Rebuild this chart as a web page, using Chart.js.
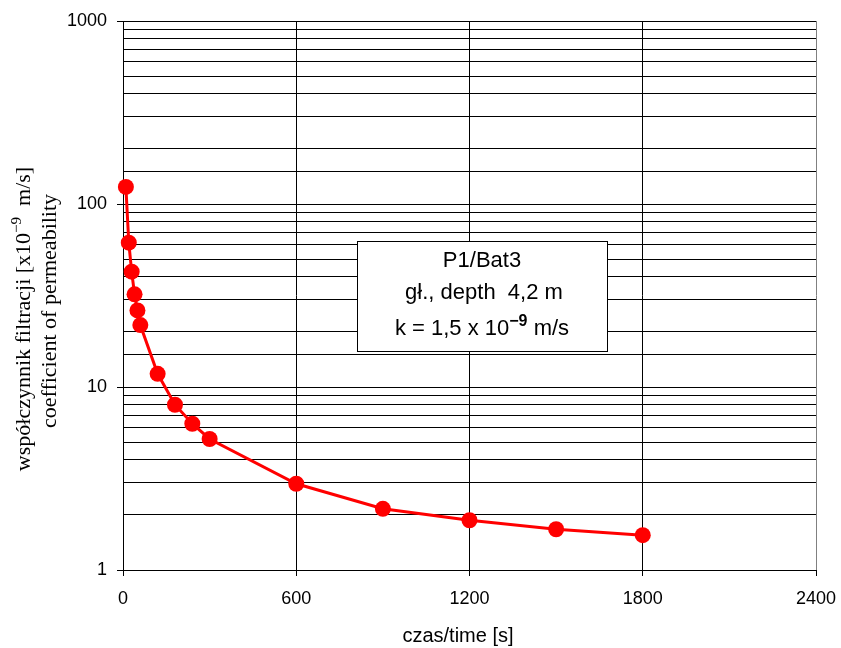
<!DOCTYPE html>
<html><head><meta charset="utf-8">
<script src="https://cdn.jsdelivr.net/npm/chart.js@4.4.0/dist/chart.umd.min.js"></script>
<style>html,body{margin:0;padding:0;background:#fff}canvas{display:block}</style>
</head><body>
<canvas id="c" width="841" height="648"></canvas>
<script>
const times = [10, 20, 30, 40, 50, 60, 120, 180, 240, 300, 600, 900, 1200, 1500, 1800];
const permeability = [124, 61.5, 42.7, 32.1, 26.2, 21.8, 11.8, 8.0, 6.3, 5.2, 2.96, 2.16, 1.87, 1.67, 1.55];
const xTickValues = [0, 600, 1200, 1800, 2400];
const yMajorTicks = [1, 10, 100, 1000];
const xTitle = 'czas/time [s]';
const yTitleLine1 = ['współczynnik filtracji [x10', '−9', '  m/s]'];
const yTitleLine2 = 'coefficient of permeability';
const boxLine1 = 'P1/Bat3';
const boxLine2 = 'gł., depth  4,2 m';
const boxLine3 = ['k = 1,5 x 10', '−9', ' m/s'];

const SANS = '"Liberation Sans", Arial, sans-serif';
const SERIF = '"Liberation Serif", "Times New Roman", serif';

function isMajor(v) { return yMajorTicks.some(m => Math.abs(m - v) < 1e-9); }

function drawPieces(ctx, pieces, cx, baseline, font, supFont, supRise) {
  ctx.font = font; const w0 = ctx.measureText(pieces[0]).width;
  ctx.font = supFont; const w1 = ctx.measureText(pieces[1]).width;
  ctx.font = font; const w2 = ctx.measureText(pieces[2]).width;
  let x = cx - (w0 + w1 + w2) / 2;
  ctx.textAlign = 'left'; ctx.textBaseline = 'alphabetic';
  ctx.font = font; ctx.fillText(pieces[0], x, baseline); x += w0;
  ctx.font = supFont; ctx.fillText(pieces[1], x, baseline - supRise); x += w1;
  ctx.font = font; ctx.fillText(pieces[2], x, baseline);
}

const annotations = {
  id: 'annotations',
  afterDraw(chart) {
    const ctx = chart.ctx;
    ctx.save();
    ctx.fillStyle = '#000';
    // x axis title
    ctx.font = '20px ' + SANS;
    ctx.textAlign = 'center'; ctx.textBaseline = 'alphabetic';
    ctx.fillText(xTitle, 458, 642);
    // y axis title (two lines, rotated)
    ctx.save();
    ctx.translate(30, 319);
    ctx.rotate(-Math.PI / 2);
    drawPieces(ctx, yTitleLine1, 0, 0, '22px ' + SERIF, '15px ' + SERIF, 9);
    ctx.restore();
    ctx.save();
    ctx.translate(56, 311);
    ctx.rotate(-Math.PI / 2);
    ctx.font = '22px ' + SERIF; ctx.textAlign = 'center'; ctx.textBaseline = 'alphabetic';
    ctx.fillText(yTitleLine2, 0, 0);
    ctx.restore();
    // info box
    ctx.fillStyle = '#fff';
    ctx.fillRect(357, 241, 250, 110);
    ctx.strokeStyle = '#000'; ctx.lineWidth = 1;
    ctx.strokeRect(357.5, 241.5, 250, 110);
    ctx.fillStyle = '#000';
    ctx.font = '22px ' + SANS; ctx.textAlign = 'center'; ctx.textBaseline = 'alphabetic';
    ctx.fillText(boxLine1, 482, 267);
    ctx.fillText(boxLine2, 484, 299);
    drawPieces(ctx, boxLine3, 482, 335, '22px ' + SANS, 'bold 16px ' + SANS, 9);
    ctx.restore();
  }
};

new Chart(document.getElementById('c'), {
  type: 'line',
  data: {
    datasets: [{
      data: times.map((t, i) => ({ x: t, y: permeability[i] })),
      borderColor: '#ff0000',
      backgroundColor: '#ff0000',
      borderWidth: 3,
      pointRadius: 8,
      pointHoverRadius: 8,
      pointBackgroundColor: '#ff0000',
      pointBorderColor: '#ff0000',
      pointBorderWidth: 0,
      tension: 0,
      clip: false
    }]
  },
  options: {
    responsive: false,
    animation: false,
    events: [],
    layout: { padding: { top: 21, right: 25, left: 0, bottom: 0 } },
    plugins: { legend: { display: false }, tooltip: { enabled: false } },
    scales: {
      x: {
        type: 'linear',
        min: 0, max: 2400,
        afterBuildTicks: (s) => { s.ticks = xTickValues.map(v => ({ value: v })); },
        afterFit: (s) => { s.height = 78; s.paddingLeft = 0; s.paddingRight = 0; },
        ticks: {
          font: { family: SANS, size: 18 }, color: '#000', padding: 12, maxRotation: 0,
          autoSkip: false,
          callback: (v) => String(v)
        },
        grid: {
          color: (c) => (c.tick && c.tick.value === 2400) ? '#808080' : '#000',
          lineWidth: 1,
          tickLength: 6,
          tickColor: '#000'
        },
        border: { display: true, color: '#000', width: 1 }
      },
      y: {
        type: 'logarithmic',
        min: 1, max: 1000,
        afterFit: (s) => { s.width = 123; s.paddingTop = 0; s.paddingBottom = 0; },
        ticks: {
          autoSkip: false,
          font: { family: SANS, size: 18 },
          color: '#000',
          padding: 10,
          callback: (v) => isMajor(v) ? String(v) : ''
        },
        grid: {
          color: '#000',
          lineWidth: 1,
          tickLength: 6,
          tickColor: (c) => (c.tick && isMajor(c.tick.value)) ? '#000' : 'rgba(0,0,0,0)'
        },
        border: { display: true, color: '#000', width: 1 }
      }
    }
  },
  plugins: [annotations]
});
</script>
</body></html>
